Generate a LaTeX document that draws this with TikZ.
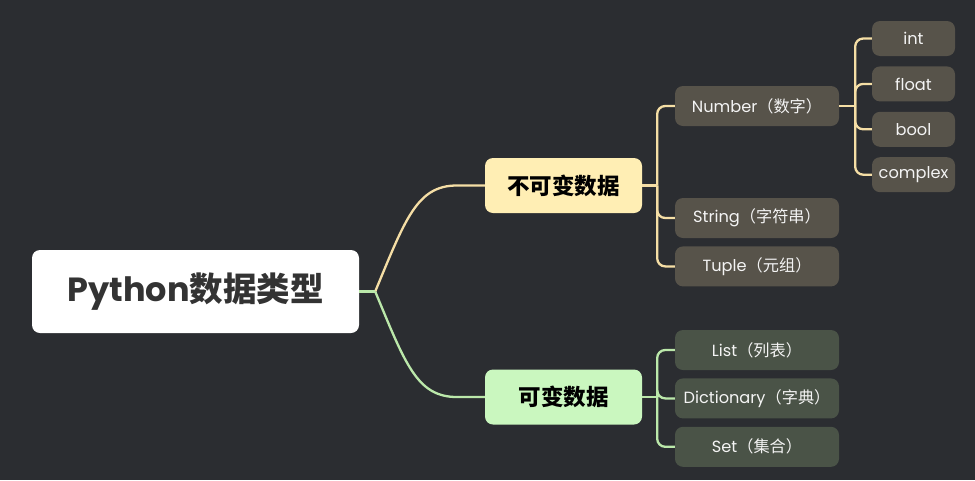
\documentclass[tikz,border=0pt]{standalone}
\usepackage{fontspec}
\setmainfont{Poppins}
\newfontfamily\cjkfont{Noto Sans CJK SC}
\usetikzlibrary{positioning}
\definecolor{BgDark}{HTML}{2B2D31}
\definecolor{RootText}{HTML}{333333}
\definecolor{ImmLine}{HTML}{F5DEA5}
\definecolor{ImmFill}{HTML}{FFEEB4}
\definecolor{ImmLeaf}{HTML}{57534A}
\definecolor{MutLine}{HTML}{BBE8AA}
\definecolor{MutFill}{HTML}{CAF7BF}
\definecolor{MutLeaf}{HTML}{4A5347}
\definecolor{LeafText}{HTML}{F4F4F4}
\newcommand\zh[1]{{\cjkfont #1}}

\begin{document}
\begin{tikzpicture}[
    x=1pt, y=-1pt,
    rootbox/.style={
        rectangle, rounded corners=8pt, fill=white, text=RootText,
        minimum width=327pt, minimum height=83pt, inner sep=0pt,
        font=\fontsize{33.5}{38}\selectfont\bfseries
    },
    topic/.style={
        rectangle, rounded corners=8pt, fill=#1, text=black,
        minimum width=157pt, minimum height=55pt, inner sep=0pt,
        font=\fontsize{22.5}{26}\selectfont\bfseries
    },
    leaf/.style={
        rectangle, rounded corners=8pt, fill=#1, text=LeafText,
        minimum width=164pt, minimum height=40pt, inner sep=0pt,
        font=\fontsize{16.2}{19}\selectfont
    },
    small/.style={
        leaf=#1, minimum width=83pt, minimum height=35pt
    },
    link/.style={draw=#1, line width=2.3pt},
    node distance=8pt
]
\fill[BgDark] (0,0) rectangle (975,480);
\useasboundingbox (0,0) rectangle (975,480);

% ===================================================================
% NODES
% ===================================================================
\node[rootbox] (root) at (195.5,291.5) {Python\zh{数据类型}};

\node[topic=ImmFill] (imm) at (563.5,185.5) {\zh{不可变数据}};
\node[topic=MutFill] (mut) at (563.5,397) {\zh{可变数据}};

\node[leaf=ImmLeaf] (number) at (757,106) {Number\zh{（数字）}};
\node[leaf=ImmLeaf] (string) at (757,218) {String\zh{（字符串）}};
\node[leaf=ImmLeaf, below=of string] (tuple) {Tuple\zh{（元组）}};

\node[small=ImmLeaf] (int) at (913.5,38.5) {int};
\node[small=ImmLeaf, below=10pt of int] (float) {float};
\node[small=ImmLeaf, below=10pt of float] (bool) {bool};
\node[small=ImmLeaf, below=10pt of bool] (complex) {complex};

\node[leaf=MutLeaf] (list) at (757,350) {List\zh{（列表）}};
\node[leaf=MutLeaf, below=of list] (dict) {Dictionary\zh{（字典）}};
\node[leaf=MutLeaf, below=of dict] (set) {Set\zh{（集合）}};

% ===================================================================
% JUNCTIONS
% ===================================================================
\coordinate (jroot) at ([xshift=16pt]root.east);
\coordinate (jimm) at ([xshift=15pt]imm.east);
\coordinate (jmut) at ([xshift=15pt]mut.east);
\coordinate (jnum) at ([xshift=16pt]number.east);

% ===================================================================
% LINKS
% ===================================================================
\draw[link=ImmLine] (jroot) .. controls +(30,-72) and +(-40,0) .. ([xshift=-28pt]imm.west) -- (imm.west);
\draw[link=MutLine] (jroot) .. controls +(30,72) and +(-40,0) .. ([xshift=-28pt]mut.west) -- (mut.west);
\draw[link=MutLine] (root.east) -- (jroot);

\draw[link=ImmLine] (imm.east) -- (jimm);
\foreach \b in {number, string, tuple} {
    \draw[link=ImmLine, rounded corners=8pt] (jimm) |- (\b.west);
}
\draw[link=ImmLine] (number.east) -- (jnum);
\foreach \b in {int, float, bool, complex} {
    \draw[link=ImmLine, rounded corners=8pt] (jnum) |- (\b.west);
}

\draw[link=MutLine] (mut.east) -- (jmut);
\foreach \b in {list, dict, set} {
    \draw[link=MutLine, rounded corners=8pt] (jmut) |- (\b.west);
}

\end{tikzpicture}
\end{document}
